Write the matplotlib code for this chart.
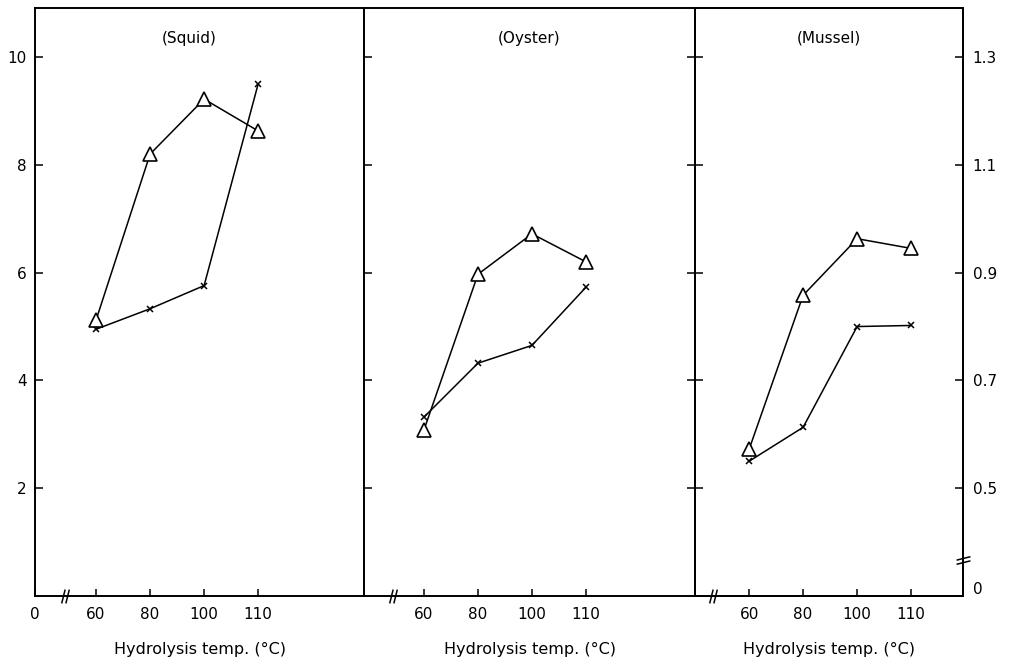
import numpy as np
import matplotlib
matplotlib.use("Agg")
import matplotlib.pyplot as plt
from matplotlib.path import Path

# data
temps = ["60", "80", "100", "110"]
panels = ["(Squid)", "(Oyster)", "(Mussel)"]
triangle_vals = [
    [5.12, 8.2, 9.22, 8.63],   # squid
    [3.08, 5.97, 6.72, 6.2],   # oyster
    [2.72, 5.58, 6.63, 6.45],  # mussel
]
cross_vals = [
    [4.95, 5.33, 5.76, 9.5],
    [3.32, 4.32, 4.65, 5.73],
    [2.5, 3.13, 5.0, 5.02],
]
left_ticks = [2, 4, 6, 8, 10]
right_labels = ["0", "0.5", "0.7", "0.9", "1.1", "1.3"]

plt.rcParams["font.family"] = "DejaVu Sans"
plt.rcParams["font.size"] = 11
plt.rcParams["ytick.direction"] = "in"
plt.rcParams["xtick.direction"] = "in"

fig = plt.figure(figsize=(10.12, 6.64), dpi=100)

rects = [
    [0.0346, 0.1024, 0.3251, 0.8855],
    [0.3597, 0.1024, 0.3271, 0.8855],
    [0.6868, 0.1024, 0.2648, 0.8855],
]
xlims = [(-1.13, 4.96), (-1.11, 5.02), (-1.0, 3.96)]
break_x = [-0.57, -0.57, -0.67]
# which sides get inward ticks: (left, right)
ytick_sides = [(True, False), (True, True), (True, False)]

# break marks drawn as custom markers
xbreak = Path([(-0.55, -1), (-0.05, 1), (0.05, -1), (0.55, 1)],
              [Path.MOVETO, Path.LINETO, Path.MOVETO, Path.LINETO])
ybreak = Path([(-1, -0.55), (1, -0.05), (-1, 0.05), (1, 0.55)],
              [Path.MOVETO, Path.LINETO, Path.MOVETO, Path.LINETO])

pos = np.arange(len(temps))

for i, name in enumerate(panels):
    ax = fig.add_axes(rects[i])
    ax.set_xlim(*xlims[i])
    ax.set_ylim(0, 10.91)
    for s in ax.spines.values():
        s.set_linewidth(1.4)

    ax.plot(pos, cross_vals[i], color="black", lw=1.1, marker="x",
            ms=5, mew=1.1, zorder=3)
    ax.plot(pos, triangle_vals[i], color="black", lw=1.1, marker="^",
            ms=10.5, mfc="white", mec="black", mew=1.2, zorder=4)

    ax.text(0.5 - 0.03 * (i == 0), 0.949, name, transform=ax.transAxes,
            ha="center", va="center", fontsize=11)

    # x axis
    if i == 0:
        ax.set_xticks([xlims[0][0]] + list(pos))
        ax.set_xticklabels(["0"] + temps)
        ax.get_xticklines()[0].set_visible(False)
        ax.get_xticklines()[1].set_visible(False)
    else:
        ax.set_xticks(pos)
        ax.set_xticklabels(temps)
    ax.tick_params(axis="x", which="both", direction="in", length=5,
                   width=1.1, pad=8, labelsize=11, top=False, bottom=True)
    ax.set_xlabel("Hydrolysis temp. (°C)", fontsize=11.5, labelpad=14)
    ax.plot([break_x[i]], [0], marker=xbreak, ms=10, mew=1.1, color="black",
            clip_on=False, zorder=5)

    # y axis
    ax.set_yticks(left_ticks)
    left, right = ytick_sides[i]
    ax.tick_params(axis="y", which="both", direction="in", length=6,
                   width=1.1, labelsize=11, pad=6, left=left, right=right,
                   labelleft=(i == 0), labelright=False)

    if i == 2:
        ax2 = ax.twinx()
        ax2.set_ylim(ax.get_ylim())
        vals = [float(v) for v in right_labels[1:]]
        ax2.set_yticks([0.15] + [(v - 0.3) / 0.1 for v in vals])
        ax2.set_yticklabels(right_labels)
        ax2.tick_params(axis="y", which="both", direction="in", length=6,
                        width=1.1, labelsize=11, pad=7, left=False,
                        right=True, labelleft=False, labelright=True)
        ax2.get_yticklines()[1].set_visible(False)
        for s in ax2.spines.values():
            s.set_linewidth(1.4)
        ax2.plot([ax.get_xlim()[1]], [0.67], marker=ybreak, ms=10, mew=1.1,
                 color="black", clip_on=False, zorder=5)

fig.savefig("out.png", dpi=100)
